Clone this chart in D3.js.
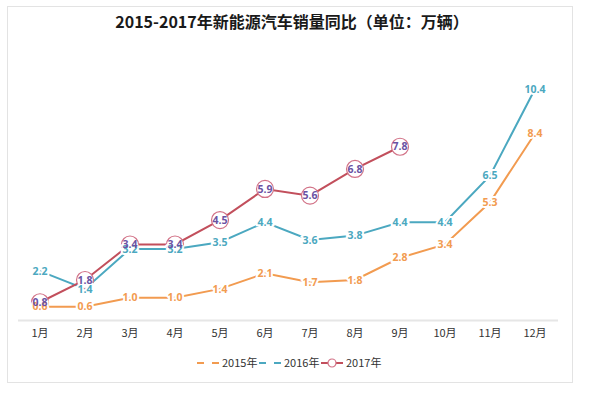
<!DOCTYPE html>
<html>
<head>
<meta charset="utf-8">
<script src="https://cdn.jsdelivr.net/npm/d3@7/dist/d3.min.js"></script>
<style>
    body { margin: 0; background: #fff; }
    svg { font-family: "Noto Sans CJK SC", "Noto Sans", sans-serif; }
</style>
</head>
<body>
<svg id="chart" width="607" height="395"></svg>
<script>
var months = ["1月", "2月", "3月", "4月", "5月", "6月", "7月", "8月", "9月", "10月", "11月", "12月"];
var sales2015 = [0.6, 0.6, 1.0, 1.0, 1.4, 2.1, 1.7, 1.8, 2.8, 3.4, 5.3, 8.4];
var sales2016 = [2.2, 1.4, 3.2, 3.2, 3.5, 4.4, 3.6, 3.8, 4.4, 4.4, 6.5, 10.4];
var sales2017 = [0.8, 1.8, 3.4, 3.4, 4.5, 5.9, 5.6, 6.8, 7.8];
var seriesNames = ["2015年", "2016年", "2017年"];

var colors = { "2015年": "#f29b50", "2016年": "#4ba8c0", "2017年": "#c24f5c" };

var series = [
    { name: "2015年", values: sales2015 },
    { name: "2016年", values: sales2016 },
    { name: "2017年", values: sales2017 }
];

var svg = d3.select("#chart");

// card
svg.append("rect")
    .attr("x", 7.5).attr("y", 6.5)
    .attr("width", 565).attr("height", 376)
    .attr("fill", "#fff")
    .attr("stroke", "#e3e3e3");

svg.append("text")
    .attr("x", 292).attr("y", 28)
    .attr("text-anchor", "middle")
    .attr("font-size", 16)
    .attr("font-weight", "bold")
    .attr("fill", "#1a1a1a")
    .text("2015-2017年新能源汽车销量同比（单位：万辆）");

var x = d3.scaleBand()
    .domain(months)
    .range([17.5, 557.5]);

var y = d3.scaleLinear()
    .domain([0, 10.4])
    .range([320, 89]);

var xAxis = d3.axisBottom(x).tickSize(0).tickPadding(9);

var axis = svg.append("g")
    .attr("transform", "translate(0,320)")
    .call(xAxis);
axis.select(".domain").attr("stroke", "#e6e6e6").attr("stroke-width", 2);
axis.selectAll("text")
    .attr("font-size", 11)
    .attr("fill", "#333")
    .attr("font-family", "\"Noto Sans CJK SC\", sans-serif");

var cx = function(d, i) { return x(months[i]) + x.bandwidth() / 2; };

var line = d3.line()
    .x(cx)
    .y(function(d) { return y(d); });

series.forEach(function(s) {
    svg.append("path")
        .datum(s.values)
        .attr("fill", "none")
        .attr("stroke", colors[s.name])
        .attr("stroke-width", 2)
        .attr("d", line);
});

// circles for 2017
svg.selectAll(".dot")
    .data(sales2017)
    .enter().append("circle")
    .attr("class", "dot")
    .attr("cx", cx)
    .attr("cy", function(d) { return y(d); })
    .attr("r", 8.5)
    .attr("fill", "#fff")
    .attr("stroke", "#d27287")
    .attr("stroke-width", 1.2);

var labelColors = { "2015年": "#f29b50", "2016年": "#4ba8c0", "2017年": "#6a52a3" };

series.forEach(function(s) {
    svg.append("g").selectAll("text")
        .data(s.values)
        .enter().append("text")
        .attr("x", cx)
        .attr("y", function(d) { return y(d); })
        .attr("dy", "0.35em")
        .attr("text-anchor", "middle")
        .attr("font-size", 10.5)
        .attr("font-weight", "bold")
        .attr("font-family", "\"Open Sans\", sans-serif")
        .attr("fill", labelColors[s.name])
        .attr("stroke", s.name === "2017年" ? "none" : "#fff")
        .attr("stroke-width", 4)
        .attr("paint-order", "stroke")
        .text(function(d) { return d.toFixed(1); });
});

// legend
var legendX = [197, 259, 321];
var legend = svg.append("g");
seriesNames.forEach(function(name, i) {
    var g = legend.append("g").attr("transform", "translate(" + legendX[i] + ",363)");
    if (name === "2017年") {
        g.append("line").attr("x1", 0).attr("x2", 22).attr("stroke", colors[name]).attr("stroke-width", 2);
        g.append("circle").attr("cx", 11).attr("r", 4).attr("fill", "#fff")
            .attr("stroke", "#d27287").attr("stroke-width", 1.2);
    } else {
        g.append("line").attr("x1", 0).attr("x2", 7).attr("stroke", colors[name]).attr("stroke-width", 2);
        g.append("line").attr("x1", 15).attr("x2", 22).attr("stroke", colors[name]).attr("stroke-width", 2);
    }
    g.append("text")
        .attr("x", 25).attr("dy", "0.35em")
        .attr("font-size", 11)
        .attr("fill", "#333")
        .text(name);
});
</script>
</body>
</html>
